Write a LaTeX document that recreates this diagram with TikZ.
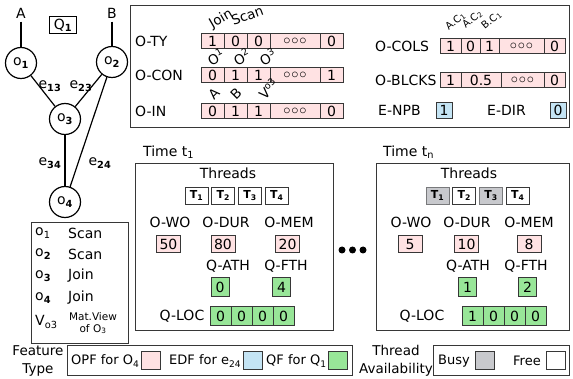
\documentclass[tikz,border=0pt]{standalone}
\usepackage{fontspec}
\setmainfont{DejaVu Sans}
\usetikzlibrary{positioning}

\definecolor{opf}{RGB}{255,226,227}
\definecolor{edf}{RGB}{196,228,244}
\definecolor{qf}{RGB}{152,230,152}
\definecolor{busyc}{RGB}{200,201,205}
\definecolor{linec}{RGB}{55,55,55}
\newcommand{\tripc}{{\fontsize{14}{14}\selectfont$\mathord{\circ}\mkern1mu\mathord{\circ}\mkern1mu\mathord{\circ}$}}

\begin{document}
\begin{tikzpicture}[
        x=1pt, y=-1pt,
        every node/.style={font=\fontsize{14}{16}\selectfont},
        panel/.style={draw=linec, line width=0.9pt, inner sep=0pt, outer sep=0pt},
        opnode/.style={circle, draw, line width=1.2pt, minimum size=31pt, inner sep=0pt},
        link/.style={draw, line width=1.2pt},
        lbl/.style={anchor=west, inner sep=0pt},
        rot/.style={anchor=south west, inner sep=0pt, font=\fontsize{13.5}{14}\selectfont},
        rotsm/.style={rot, font=\fontsize{10}{11}\selectfont},
        cell/.style={draw=linec, fill=opf, line width=0.8pt, minimum width=23pt, minimum height=15pt, inner sep=0pt, outer sep=0pt},
        widecell/.style={cell, minimum width=50pt},
        vcell/.style={cell, minimum width=24pt, minimum height=17pt},
        qbox/.style={cell, fill=qf, minimum width=18pt, minimum height=19pt},
        qcell/.style={cell, fill=qf, minimum width=21pt, minimum height=19pt},
        thr/.style={draw=linec, line width=0.8pt, minimum width=23pt, minimum height=17pt, inner sep=0pt, font=\bfseries\fontsize{11}{12}\selectfont},
        busythr/.style={thr, fill=busyc, draw=busyc!60!black},
        bullet/.style={circle, fill=black, minimum size=7pt, inner sep=0pt},
        swatch/.style={draw=linec, line width=0.8pt, minimum width=19pt, minimum height=18pt, inner sep=0pt}
    ]
        \useasboundingbox (0,0) rectangle (573,379);

        \node (inA) at (21,13) {A};
        \node (inB) at (112,13) {B};
        \node [draw, line width=0.9pt, minimum width=27pt, minimum height=17pt, inner sep=1pt] (q1) at (63,25) {Q\textsubscript{\textbf{1}}};
        \node [opnode] (o1) at (21,63) {o\textsubscript{\textbf{1}}};
        \node [opnode] (o2) at (112,62) {o\textsubscript{\textbf{2}}};
        \node [opnode] (o3) at (65,119) {o\textsubscript{\textbf{3}}};
        \node [opnode] (o4) at (65,202) {o\textsubscript{\textbf{4}}};
        \path [link] (inA) -- (o1);
        \path [link] (inB) -- (o2);
        \path [link] (o1) -- (o3);
        \path [link] (o2) -- (o3);
        \path [link] (o3) -- (o4);
        \path [link] (o2) -- (o4);
        \node (le13) at (50,86) {e\textsubscript{\textbf{13}}};
        \node (le23) at (81,86) {e\textsubscript{\textbf{23}}};
        \node (le34) at (50,163) {e\textsubscript{\textbf{34}}};
        \node (le24) at (100,163) {e\textsubscript{\textbf{24}}};

        \node [panel, minimum width=97pt, minimum height=121pt] (legbox) at (79.5,282.5) {};
        \node [lbl] (l1) at (35,233) {o\textsubscript{1}};
        \node [lbl] (l1t) at (68,233) {Scan};
        \node [lbl] (l2) at (35,254) {o\textsubscript{\textbf{2}}};
        \node [lbl] (l2t) at (68,254) {Scan};
        \node [lbl] (l3) at (35,276) {o\textsubscript{\textbf{3}}};
        \node [lbl] (l3t) at (68,276) {Join};
        \node [lbl] (l4) at (35,298) {o\textsubscript{\textbf{4}}};
        \node [lbl] (l4t) at (68,298) {Join};
        \node [lbl] (l5) at (35,322) {V\textsubscript{o3}};
        \node [align=center, inner sep=0pt, font=\fontsize{10.5}{12}\selectfont] (l5t) at (93,323) {Mat.View\\of O\textsubscript{3}};

        \node [panel, minimum width=439pt, minimum height=122pt] (topbox) at (349.5,66) {};
        \node [lbl] (nty) at (135,41) {O-TY};
        \node [cell] (ty1) at (212.5,41) {1};
        \node [cell, right=0pt of ty1] (ty2) {0};
        \node [cell, right=0pt of ty2] (ty3) {0};
        \node [widecell, right=0pt of ty3] (ty4) {\tripc};
        \node [cell, right=0pt of ty4] (ty5) {0};
        \node [rot] (rjoin) at (207,31) {\rotatebox{30}{Join}};
        \node [rot] (rscan) at (230,26) {\rotatebox{20}{Scan}};

        \node [lbl] (ncon) at (135,75) {O-CON};
        \node [cell] (con1) at (212.5,75) {0};
        \node [cell, right=0pt of con1] (con2) {1};
        \node [cell, right=0pt of con2] (con3) {1};
        \node [widecell, right=0pt of con3] (con4) {\tripc};
        \node [cell, right=0pt of con4] (con5) {1};
        \node [rot] (rc1) at (205,67) {\rotatebox{30}{O\textsuperscript{1}}};
        \node [rot] (rc2) at (231,67) {\rotatebox{30}{O\textsuperscript{2}}};
        \node [rot] (rc3) at (257,67) {\rotatebox{30}{O\textsuperscript{3}}};

        \node [lbl] (nin) at (135,111) {O-IN};
        \node [cell] (in1) at (212.5,111) {0};
        \node [cell, right=0pt of in1] (in2) {1};
        \node [cell, right=0pt of in2] (in3) {1};
        \node [widecell, right=0pt of in3] (in4) {\tripc};
        \node [cell, right=0pt of in4] (in5) {0};
        \node [rot] (ri1) at (207,101) {\rotatebox{45}{A}};
        \node [rot] (ri2) at (229,101) {\rotatebox{45}{B}};
        \node [rot] (ri3) at (256,101) {\rotatebox{45}{V\textsuperscript{o3}}};

        \node [lbl] (ncols) at (375,46) {O-COLS};
        \node [cell, minimum width=21pt] (col1) at (450.5,46) {1};
        \node [cell, minimum width=19pt, right=0pt of col1] (col2) {0};
        \node [cell, minimum width=19pt, right=0pt of col2] (col3) {1};
        \node [cell, minimum width=45pt, right=0pt of col3] (col4) {\tripc};
        \node [cell, minimum width=21pt, right=0pt of col4] (col5) {0};
        \node [rotsm] (rk1) at (444,32) {\rotatebox{40}{A.C\textsubscript{1}}};
        \node [rotsm] (rk2) at (461,30) {\rotatebox{40}{A.C\textsubscript{2}}};
        \node [rotsm] (rk3) at (480,31) {\rotatebox{40}{B.C\textsubscript{1}}};

        \node [lbl] (nblk) at (375,80) {O-BLCKS};
        \node [cell, minimum width=21pt] (blk1) at (450.5,80) {1};
        \node [cell, minimum width=40pt, right=0pt of blk1] (blk2) {0.5};
        \node [cell, minimum width=43pt, right=0pt of blk2] (blk3) {\tripc};
        \node [cell, minimum width=21pt, right=0pt of blk3] (blk4) {0};

        \node [lbl] (nnpb) at (378,110) {E-NPB};
        \node [cell, fill=edf, minimum width=16pt, minimum height=16pt] (npb) at (444,110) {1};
        \node [lbl] (ndir) at (487,110) {E-DIR};
        \node [cell, fill=edf, minimum width=16pt, minimum height=16pt] (dir) at (558,110) {0};

        \node [lbl] (ti1) at (143,152) {Time t\textsubscript{1}};
        \node [panel, minimum width=198pt, minimum height=167pt] (tb1) at (234,246.5) {};
        \node (th1) at (228,173) {Threads};
        \node [thr] (t11) at (196.5,195.5) {T\textsubscript{1}};
        \node [thr, right=3pt of t11] (t12) {T\textsubscript{2}};
        \node [thr, right=3pt of t12] (t13) {T\textsubscript{3}};
        \node [thr, right=3pt of t13] (t14) {T\textsubscript{4}};
        \node (wo1) at (170,222) {O-WO};
        \node (dur1) at (226,222) {O-DUR};
        \node (mem1) at (289,222) {O-MEM};
        \node [vcell] (wov1) at (168.5,244) {50};
        \node [vcell] (durv1) at (223,244) {80};
        \node [vcell] (memv1) at (287.5,244) {20};
        \node (ath1) at (228,266) {Q-ATH};
        \node (fth1) at (286,266) {Q-FTH};
        \node [qbox] (athv1) at (220,287) {0};
        \node [qbox] (fthv1) at (281.5,287) {4};
        \node (loc1) at (182,316) {Q-LOC};
        \node [qcell] (lc11) at (220.5,316) {0};
        \node [qcell, right=0pt of lc11] (lc12) {0};
        \node [qcell, right=0pt of lc12] (lc13) {0};
        \node [qcell, right=0pt of lc13] (lc14) {0};

        \node [bullet] (d1) at (342,250) {};
        \node [bullet] (d2) at (352.5,250) {};
        \node [bullet] (d3) at (363,250) {};

        \node [lbl] (tin) at (383,152) {Time t\textsubscript{n}};
        \node [panel, minimum width=193pt, minimum height=167pt] (tbn) at (472.5,246.5) {};
        \node (thn) at (469,173) {Threads};
        \node [busythr] (tn1) at (437.5,195.5) {T\textsubscript{1}};
        \node [thr, right=3pt of tn1] (tn2) {T\textsubscript{2}};
        \node [busythr, right=3pt of tn2] (tn3) {T\textsubscript{3}};
        \node [thr, right=3pt of tn3] (tn4) {T\textsubscript{4}};
        \node (won) at (411,222) {O-WO};
        \node (durn) at (467,222) {O-DUR};
        \node (memn) at (529,222) {O-MEM};
        \node [vcell] (wovn) at (410,244) {5};
        \node [vcell] (durvn) at (466.5,244) {10};
        \node [vcell] (memvn) at (529,244) {8};
        \node (athn) at (468,266) {Q-ATH};
        \node (fthn) at (526,266) {Q-FTH};
        \node [qbox] (athvn) at (467.5,287) {1};
        \node [qbox] (fthvn) at (527.5,287) {2};
        \node (locn) at (422,316) {Q-LOC};
        \node [qcell] (lcn1) at (472.5,316) {1};
        \node [qcell, right=0pt of lcn1] (lcn2) {0};
        \node [qcell, right=0pt of lcn2] (lcn3) {0};
        \node [qcell, right=0pt of lcn3] (lcn4) {0};

        \node [align=center, inner sep=0pt, font=\fontsize{13.5}{18}\selectfont] (ftype) at (38,361) {Feature\\Type};
        \node [panel, minimum width=285pt, minimum height=30pt] (fbox) at (209.5,360) {};
        \node [lbl, font=\fontsize{13}{15}\selectfont] (fopf) at (71,361) {OPF for O\textsubscript{4}};
        \node [swatch, fill=opf] (sopf) at (151,360) {};
        \node [lbl, font=\fontsize{13}{15}\selectfont] (fedf) at (169,361) {EDF for e\textsubscript{24}};
        \node [swatch, fill=edf] (sedf) at (253,360) {};
        \node [lbl, font=\fontsize{13}{15}\selectfont] (fqf) at (266,361) {QF for Q\textsubscript{1}};
        \node [swatch, fill=qf] (sqf) at (338,360) {};
        \node [align=center, inner sep=0pt, font=\fontsize{13.5}{18}\selectfont] (tav) at (396,361) {Thread\\Availability};
        \node [panel, minimum width=136pt, minimum height=30pt] (avbox) at (501,360) {};
        \node [lbl, font=\fontsize{13}{15}\selectfont] (tbusy) at (438,361) {Busy};
        \node [swatch, fill=busyc] (sbusy) at (485,360) {};
        \node [lbl, font=\fontsize{13}{15}\selectfont] (tfree) at (513,361) {Free};
        \node [swatch, fill=white] (sfree) at (556,360) {};
    \end{tikzpicture}
\end{document}
